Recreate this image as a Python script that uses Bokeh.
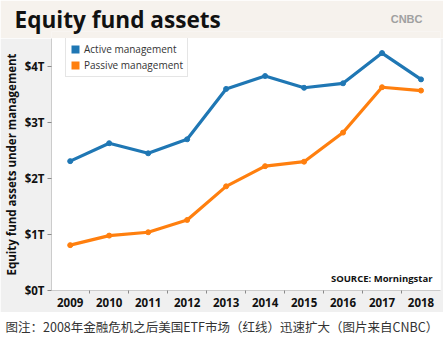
import numpy as np
from bokeh.plotting import figure
from bokeh.layouts import column
from bokeh.models import (Range1d, FixedTicker, PrintfTickFormatter, Label,
                          Legend, LegendItem, ColumnDataSource)
from bokeh.embed import file_html
from bokeh.resources import INLINE

# ---- data ----
years = [2009, 2010, 2011, 2012, 2013, 2014, 2015, 2016, 2017, 2018]
active = [2.31, 2.63, 2.45, 2.70, 3.60, 3.83, 3.62, 3.70, 4.24, 3.77]
passive = [0.81, 0.98, 1.04, 1.26, 1.86, 2.22, 2.30, 2.82, 3.63, 3.57]
y_ticks = [0, 1, 2, 3, 4]
x_bounds = [2009.5, 2010.5, 2011.5, 2012.5, 2013.5, 2014.5, 2015.5, 2016.5, 2017.5]
series_names = ["Active management", "Passive management"]
title_text = "Equity fund assets"
y_title = "Equity fund assets under management"
source_text = "SOURCE: Morningstar"
caption_text = "图注：2008年金融危机之后美国ETF市场（红线）迅速扩大（图片来自CNBC）"

BLUE = "#1f77b4"
ORANGE = "#ff7f0e"
FONT = "Open Sans"


def bare(fig):
    fig.xaxis.visible = False
    fig.yaxis.visible = False
    fig.xgrid.visible = False
    fig.ygrid.visible = False


# ---- title band ----
t = figure(width=443, height=38, output_backend="svg", toolbar_location=None,
           x_range=Range1d(0, 1), y_range=Range1d(0, 1),
           min_border_left=2, min_border_right=3, min_border_top=0,
           min_border_bottom=0)
bare(t)
t.border_fill_color = "#f6f2ed"
t.background_fill_color = "#f6f2ed"
t.outline_line_color = None
t.add_layout(Label(x=14, y=19, x_units="canvas", y_units="canvas",
                   text=title_text, text_font=FONT, text_font_style="bold",
                   text_font_size="22.6px", text_color="#111111",
                   text_baseline="middle", text_align="left"), "above")
t.add_layout(Label(x=422, y=18, x_units="canvas", y_units="canvas",
                   text="CNBC", text_font="Liberation Sans", text_font_style="bold",
                   text_font_size="11px", text_color="#a0a0a0",
                   text_baseline="middle", text_align="right"), "left")

# ---- main chart ----
p = figure(width=443, height=274, output_backend="svg", toolbar_location=None,
           x_range=Range1d(2008.52, 2018.5), y_range=Range1d(0, 4.50),
           min_border_left=47, min_border_right=3, min_border_top=0,
           min_border_bottom=22)
p.border_fill_color = "#f0f0f0"
p.background_fill_color = "white"
p.outline_line_color = None
p.xgrid.visible = False
p.ygrid.visible = False

p.yaxis.ticker = FixedTicker(ticks=y_ticks)
p.yaxis.formatter = PrintfTickFormatter(format="$%dT")
p.yaxis.major_label_text_font = FONT
p.yaxis.major_label_text_font_style = "bold"
p.yaxis.major_label_text_font_size = "11.5px"
p.yaxis.major_label_text_color = "#111111"
p.yaxis.major_tick_in = 0
p.yaxis.major_tick_out = 4
p.yaxis.major_tick_line_color = "#888888"
p.yaxis.minor_tick_line_color = None
p.yaxis.axis_line_color = "#cccccc"
p.yaxis.major_label_standoff = 3
p.yaxis.axis_label = y_title
p.yaxis.axis_label_text_font = FONT
p.yaxis.axis_label_text_font_style = "bold"
p.yaxis.axis_label_text_font_size = "11.5px"
p.yaxis.axis_label_text_color = "#111111"
p.yaxis.axis_label_standoff = 3

p.xaxis.ticker = FixedTicker(ticks=years, minor_ticks=x_bounds)
p.xaxis.formatter = PrintfTickFormatter(format="%d")
p.xaxis.major_label_text_font = FONT
p.xaxis.major_label_text_font_style = "bold"
p.xaxis.major_label_text_font_size = "11.5px"
p.xaxis.major_label_text_color = "#111111"
p.xaxis.major_tick_in = 0
p.xaxis.major_tick_out = 0
p.xaxis.minor_tick_in = 0
p.xaxis.minor_tick_out = 3
p.xaxis.minor_tick_line_color = "#888888"
p.xaxis.axis_line_color = "#cccccc"
p.xaxis.major_label_standoff = 4

src = ColumnDataSource(dict(x=years, a=active, b=passive))
p.line("x", "a", source=src, line_color=BLUE, line_width=3.2)
p.scatter("x", "a", source=src, size=5, color=BLUE)
p.line("x", "b", source=src, line_color=ORANGE, line_width=3.2)
p.scatter("x", "b", source=src, size=5, color=ORANGE)

# legend swatches (no visible data)
nan = np.array([np.nan])
dummy = ColumnDataSource(dict(l=nan, r=nan, t=nan, b=nan))
ra = p.quad(left="l", right="r", top="t", bottom="b", source=dummy,
            fill_color=BLUE, line_color=None)
rb = p.quad(left="l", right="r", top="t", bottom="b", source=dummy,
            fill_color=ORANGE, line_color=None)
legend = Legend(items=[LegendItem(label=series_names[0], renderers=[ra]),
                       LegendItem(label=series_names[1], renderers=[rb])],
                location=(14, 213))
legend.label_text_font = FONT
legend.label_text_font_size = "10px"
legend.label_text_color = "#333333"
legend.glyph_width = 10
legend.glyph_height = 10
legend.label_height = 12
legend.label_standoff = 4
legend.spacing = 2
legend.padding = 4
legend.margin = 0
legend.border_line_color = "#cccccc"
legend.background_fill_alpha = 1
p.add_layout(legend)

p.add_layout(Label(x=432, y=240, x_units="canvas", y_units="canvas",
                   text=source_text, text_font=FONT, text_font_style="bold",
                   text_font_size="9.5px", text_color="#111111",
                   text_baseline="middle", text_align="right"))

# ---- caption ----
c = figure(width=443, height=27, output_backend="svg", toolbar_location=None,
           x_range=Range1d(0, 1), y_range=Range1d(0, 1),
           min_border_left=0, min_border_right=0, min_border_top=0,
           min_border_bottom=0)
bare(c)
c.border_fill_color = "white"
c.background_fill_color = "white"
c.outline_line_color = None
c.add_layout(Label(x=5, y=14, x_units="canvas", y_units="canvas",
                   text=caption_text, text_font="Noto Sans CJK SC",
                   text_font_size="12.5px", text_color="#333333",
                   text_baseline="middle", text_align="left"), "above")

layout = column(t, p, c, spacing=0)
open("out.html", "w").write(file_html(layout, INLINE))
